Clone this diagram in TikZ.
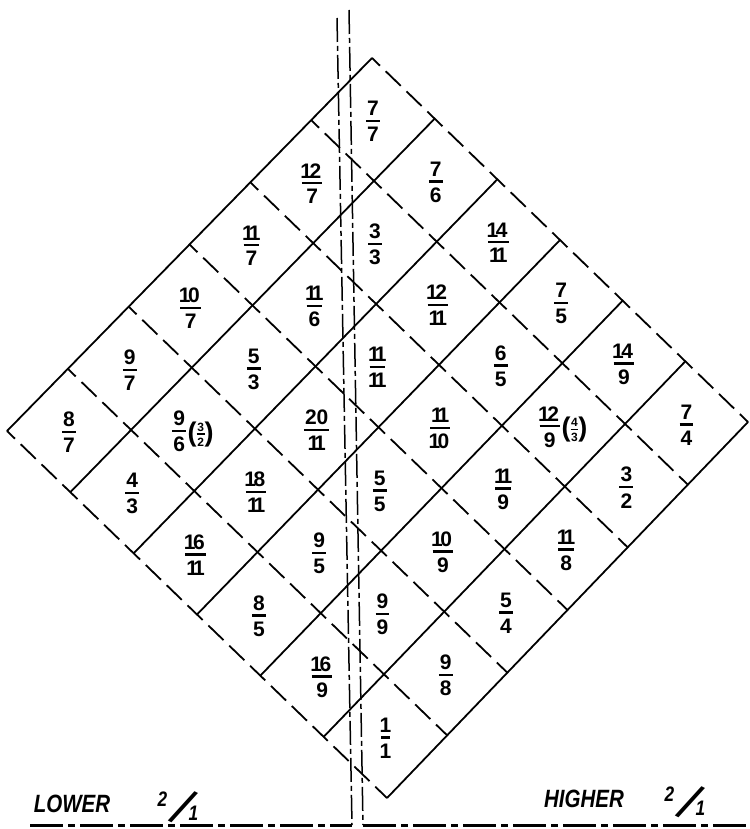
\documentclass[tikz,border=0pt]{standalone}
\usepackage{fontspec}
\usepackage{graphicx}
\setmainfont{Liberation Sans}
\newfontfamily\letterfont[FakeStretch=0.82]{Liberation Sans}
\usetikzlibrary{calc}
\newcommand{\dOne}{\kern-.12em 1\kern-.12em}
\newcommand{\fr}[2]{{%
  \setbox0=\hbox{#1}\setbox2=\hbox{#2}%
  \dimen0=\wd0 \ifdim\wd2>\dimen0 \dimen0=\wd2 \fi
  \advance\dimen0 by .1em
  \vbox{\hbox to\dimen0{\hss\box0\hss}\kern.19em\hrule height .11em\kern.24em\hbox to\dimen0{\hss\box2\hss}}}}
\newcommand{\pfr}[4]{$\vcenter{\hbox{\fr{#1}{#2}}}$\kern1.5pt\raisebox{-3pt}{$\vcenter{\hbox{\fontsize{27}{27}\selectfont(}}\vcenter{\hbox{\fontsize{12}{12}\selectfont\fr{#3}{#4}}}\vcenter{\hbox{\fontsize{27}{27}\selectfont)}}$}}
\newcommand{\ratiotext}{%
  \rlap{\raisebox{14pt}{\fontsize{21}{21}\selectfont 2}}%
  \kern11pt\rlap{\rotatebox{-27}{\rmfamily\mdseries\upshape\fontsize{52}{52}\selectfont /}}%
  \kern20pt{\fontsize{21}{21}\selectfont 1}}
\tikzset{
  gridsolid/.style={line width=1.8pt},
  griddash/.style={line width=1.8pt, dash pattern=on 21pt off 8pt, dash phase=10pt},
  centerline/.style={line width=1.5pt, dash pattern=on 24pt off 4pt on 5pt off 4pt},
  groundline/.style={line width=3pt, dash pattern=on 33pt off 5pt on 7pt off 5pt},
  cellfrac/.style={font=\fontsize{21}{21}\selectfont\bfseries, inner sep=0pt},
  lettering/.style={font=\letterfont\fontsize{25}{25}\selectfont\bfseries\itshape, inner sep=0pt},
}
\begin{document}
\begin{tikzpicture}[x=1pt,y=-1pt]
\useasboundingbox[fill=white] (0,0) rectangle (749,829);
\coordinate (T) at (372,58);
\coordinate (L) at (7,431);
\coordinate (R) at (748,422);
\coordinate (B) at (387,798);
\foreach \i in {0,...,6}{
  \coordinate (a\i) at ($(T)!\i/6!(L)$);
  \coordinate (b\i) at ($(R)!\i/6!(B)$);
  \coordinate (c\i) at ($(T)!\i/6!(R)$);
  \coordinate (d\i) at ($(L)!\i/6!(B)$);
}
\foreach \i in {0,...,6}{
  \draw[griddash] (a\i) -- (b\i);
  \draw[gridsolid] (c\i) -- (d\i);
}
\foreach \r/\c/\t in {
  0/0/\fr{7}{7}, 0/1/\fr{7}{6}, 0/2/\fr{\dOne4}{\dOne\dOne}, 0/3/\fr{7}{5}, 0/4/\fr{\dOne4}{9}, 0/5/\fr{7}{4},
  1/0/\fr{\dOne2}{7}, 1/1/\fr{3}{3}, 1/2/\fr{\dOne2}{\dOne\dOne}, 1/3/\fr{6}{5}, 1/4/\pfr{\dOne2}{9}{4}{3}, 1/5/\fr{3}{2},
  2/0/\fr{\dOne\dOne}{7}, 2/1/\fr{\dOne\dOne}{6}, 2/2/\fr{\dOne\dOne}{\dOne\dOne}, 2/3/\fr{\dOne\dOne}{\dOne0}, 2/4/\fr{\dOne\dOne}{9}, 2/5/\fr{\dOne\dOne}{8},
  3/0/\fr{\dOne0}{7}, 3/1/\fr{5}{3}, 3/2/\fr{20}{\dOne\dOne}, 3/3/\fr{5}{5}, 3/4/\fr{\dOne0}{9}, 3/5/\fr{5}{4},
  4/0/\fr{9}{7}, 4/1/\pfr{9}{6}{3}{2}, 4/2/\fr{\dOne8}{\dOne\dOne}, 4/3/\fr{9}{5}, 4/4/\fr{9}{9}, 4/5/\fr{9}{8},
  5/0/\fr{8}{7}, 5/1/\fr{4}{3}, 5/2/\fr{\dOne6}{\dOne\dOne}, 5/3/\fr{8}{5}, 5/4/\fr{\dOne6}{9}, 5/5/\fr{\dOne}{\dOne}}{
  \pgfmathsetmacro\uu{(\r+0.5)/6}
  \pgfmathsetmacro\vv{(\c+0.5)/6}
  \coordinate (p) at ($(T)!\uu!(L)$);
  \coordinate (q) at ($(R)!\uu!(B)$);
  \node[cellfrac] (n\r\c) at ($(p)!\vv!(q)+(0,2)$) {\t};
}
\coordinate (vlt) at (337,18);
\coordinate (vlb) at (352,825);
\coordinate (vrt) at (349,10);
\coordinate (vrb) at (363,825);
\draw[centerline] (vlt) -- (vlb);
\draw[centerline] (vrt) -- (vrb);
\coordinate (gl) at (30,825);
\coordinate (gr) at (749,825);
\draw[groundline] (gl) -- (vlb);
\draw[groundline] (vrb) -- (gr);
\node[lettering] (lower) at (72,804) {LOWER};
\node[lettering] (lowratio) at (178,807) {\ratiotext};
\node[lettering] (higher) at (584,799) {HIGHER};
\node[lettering] (highratio) at (685,802) {\ratiotext};
\end{tikzpicture}
\end{document}
